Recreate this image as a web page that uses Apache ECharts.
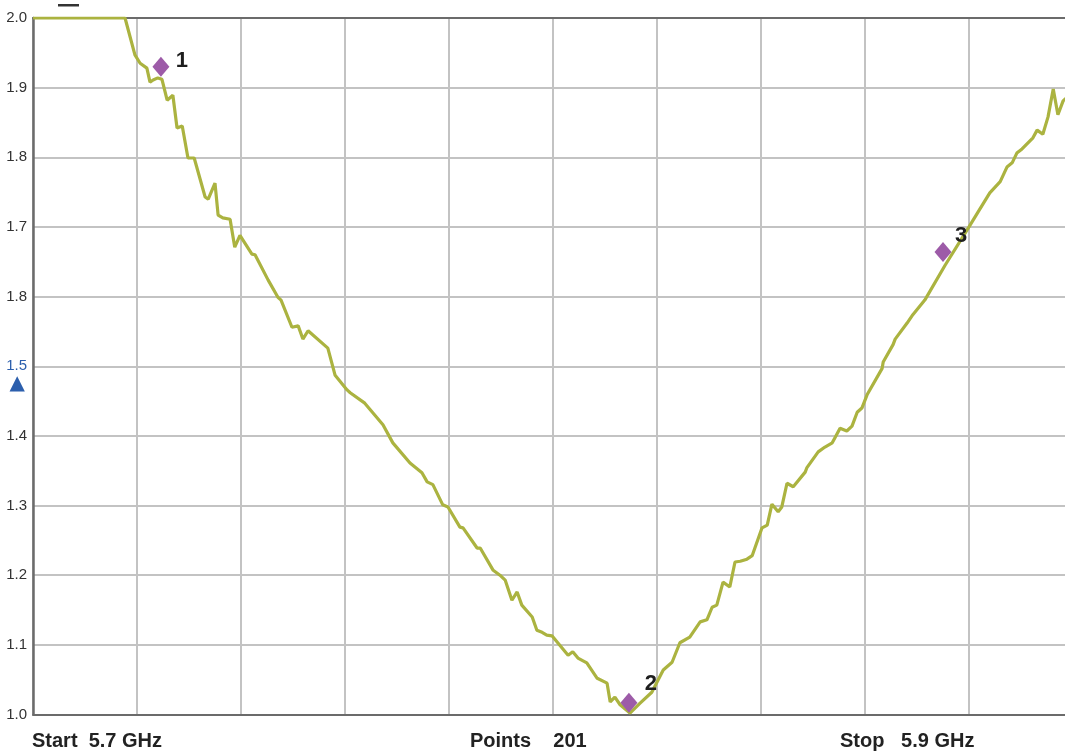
<!DOCTYPE html>
<html>
<head>
<meta charset="utf-8">
<script src="https://cdn.jsdelivr.net/npm/echarts@6/dist/echarts.min.js"></script>
<style>
html,body{margin:0;padding:0;background:#fff;}
#chart{width:1065px;height:751px;}
</style>
</head>
<body>
<div id="chart"></div>
<script>
// Frequency (MHz) of each trace vertex
const traceFreq = [
5700.0,5717.7,5719.6,5720.6,5721.9,5722.5,5723.1,5724.0,5724.8,5725.8,
5726.9,5727.7,5728.7,5729.8,5731.0,5733.1,5733.7,5735.0,5735.6,5736.5,
5737.9,5738.8,5739.8,5742.1,5742.7,5745.2,5747.1,5747.7,5749.8,5751.0,
5751.9,5752.9,5756.7,5758.1,5760.4,5761.0,5763.8,5767.3,5769.2,5772.5,
5774.8,5775.8,5776.9,5778.8,5779.8,5782.1,5782.7,5785.4,5786.0,5788.5,
5789.8,5790.8,5792.1,5793.1,5794.0,5796.0,5796.9,5797.9,5798.8,5799.8,
5802.9,5803.8,5804.8,5806.5,5808.5,5810.4,5811.0,5811.9,5812.9,5814.8,
5816.7,5819.0,5821.2,5822.9,5824.4,5826.3,5828.3,5829.6,5830.6,5831.5,
5832.7,5834.0,5835.0,5836.0,5837.3,5838.3,5840.2,5841.2,5842.1,5843.3,
5844.0,5845.0,5846.2,5848.5,5848.8,5851.0,5852.3,5853.7,5854.2,5855.2,
5856.5,5857.5,5858.5,5859.4,5860.4,5863.3,5863.5,5865.4,5865.8,5868.1,
5869.2,5871.5,5875.4,5880.0,5881.7,5884.0,5886.0,5887.3,5888.3,5889.2,
5890.2,5892.3,5893.1,5894.2,5895.2,5896.2,5897.1,5898.1,5900.0
];
// SWR value at each vertex
const traceSwr = [
2.000,2.000,1.947,1.935,1.928,1.908,1.911,1.914,1.912,1.882,
1.889,1.842,1.845,1.799,1.799,1.743,1.740,1.763,1.717,1.713,
1.711,1.671,1.688,1.661,1.660,1.624,1.599,1.595,1.556,1.558,
1.539,1.551,1.526,1.487,1.466,1.462,1.447,1.416,1.390,1.361,
1.347,1.334,1.330,1.301,1.298,1.269,1.268,1.239,1.239,1.207,
1.200,1.193,1.164,1.176,1.157,1.140,1.121,1.118,1.114,1.113,
1.085,1.090,1.081,1.074,1.052,1.045,1.018,1.025,1.014,1.002,
1.016,1.032,1.064,1.075,1.103,1.111,1.133,1.136,1.154,1.157,
1.190,1.183,1.219,1.220,1.223,1.228,1.268,1.272,1.302,1.291,
1.298,1.332,1.327,1.348,1.354,1.377,1.384,1.390,1.397,1.411,
1.407,1.414,1.434,1.440,1.459,1.497,1.506,1.531,1.539,1.562,
1.574,1.595,1.645,1.700,1.721,1.749,1.765,1.786,1.792,1.806,
1.812,1.828,1.839,1.833,1.858,1.898,1.861,1.881,1.894
];
// Markers
const markerNames = ['1','2','3'];
const markerFreq = [5724.6, 5814.6, 5875.0];
const markerSwr = [1.930, 1.017, 1.664];
// Y tick labels (as printed on the instrument, bottom to top)
const yTickLabels = ['1.0','1.1','1.2','1.3','1.4','1.5','1.8','1.7','1.8','1.9','2.0'];
// Footer texts
const startText = 'Start  5.7 GHz';
const pointsText = 'Points    201';
const stopText = 'Stop   5.9 GHz';

const chart = echarts.init(document.getElementById('chart'));
const FONT = '"Liberation Sans", Arial, Helvetica, sans-serif';
const labelOffsets = [[21,-6],[22,-19],[18,-16]];

const traceData = traceFreq.map((f,i)=>[f, traceSwr[i]]);
const markerData = markerFreq.map((f,i)=>({
  value:[f, markerSwr[i]],
  name: markerNames[i],
  label:{offset: labelOffsets[i]}
}));
const footStyle = {fontFamily:FONT,fontSize:20,fontWeight:'bold',color:'#222'};

const option = {
  animation:false,
  backgroundColor:'#fff',
  grid:{left:33, width:1040, top:18, height:696.5, containLabel:false, outerBoundsMode:'none'},
  title:[
    {text:startText, left:32, top:731, padding:0, textStyle:footStyle},
    {text:pointsText, left:470, top:731, padding:0, textStyle:footStyle},
    {text:stopText, left:840, top:731, padding:0, textStyle:footStyle}
  ],
  graphic:[
    {type:'rect', left:58, top:4, shape:{width:21,height:2.5}, style:{fill:'#333'}}
  ],
  xAxis:[
    {type:'value', min:5700, max:5900, interval:20, position:'bottom',
     axisLine:{show:true, onZero:false, lineStyle:{color:'#6b6b6b', width:2}},
     axisTick:{show:false}, axisLabel:{show:false},
     splitLine:{show:true, lineStyle:{color:'#c3c3c3', width:2}}},
    {type:'value', min:5700, max:5900, interval:20, position:'top',
     axisLine:{show:true, onZero:false, lineStyle:{color:'#6b6b6b', width:2}},
     axisTick:{show:false}, axisLabel:{show:false}, splitLine:{show:false}}
  ],
  yAxis:{
    type:'value', min:1.0, max:2.0, interval:0.1,
    axisLine:{show:true, onZero:false, lineStyle:{color:'#6b6b6b', width:2.5}},
    axisTick:{show:false},
    splitLine:{show:true, lineStyle:{color:'#c3c3c3', width:2}},
    axisLabel:{
      margin:6, fontFamily:FONT, fontSize:15, color:'#333',
      formatter:(v)=>{
        const s = yTickLabels[Math.round((v-1)*10)];
        if (Math.abs(v-1.5)<1e-6) return '{e| }\n{b|'+s+'}\n{t|▲}';
        return s;
      },
      rich:{
        e:{lineHeight:18, fontSize:15},
        b:{lineHeight:18, fontSize:15, color:'#2c5fad', fontFamily:FONT},
        t:{lineHeight:18, fontSize:20, color:'#2c5fad', fontFamily:'"DejaVu Sans"', padding:[0,2,0,0]}
      }
    }
  },
  series:[
    {type:'line', data:traceData, showSymbol:false, symbol:'none',
     lineStyle:{color:'#abb340', width:3.2}, clip:true, z:3},
    {type:'scatter', data:markerData, symbol:'diamond', symbolSize:[17,20],
     itemStyle:{color:'#9d5ba8', opacity:1}, z:4,
     label:{show:true, formatter:'{b}', position:'inside', fontFamily:FONT,
            fontSize:22, fontWeight:'bold', color:'#1e1e1e'}}
  ]
};
chart.setOption(option);
</script>
</body>
</html>
